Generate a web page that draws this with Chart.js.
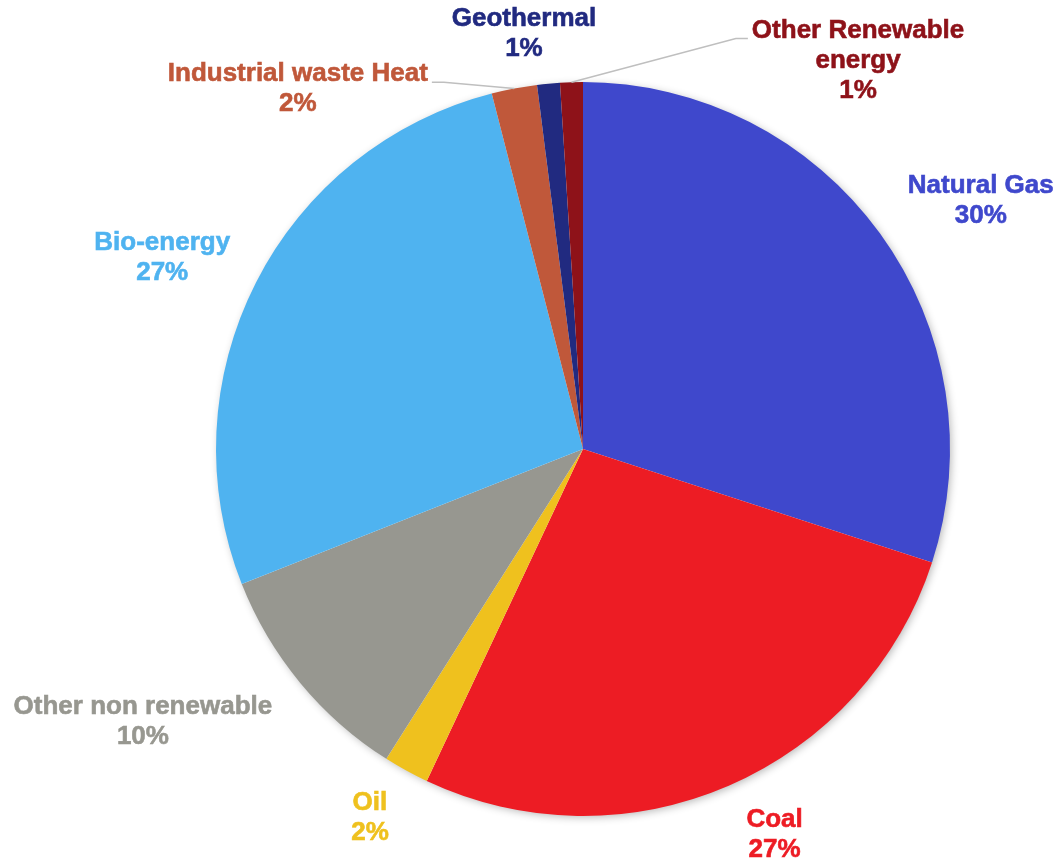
<!DOCTYPE html>
<html>
<head>
<meta charset="utf-8">
<script src="https://cdn.jsdelivr.net/npm/chart.js@4/dist/chart.umd.min.js"></script>
<style>
  html, body { margin: 0; padding: 0; background: #fff; }
  #wrap { width: 1060px; height: 862px; }
</style>
</head>
<body>
<div id="wrap"><canvas id="myChart"></canvas></div>
<script>
// data set
var categories = ["Natural Gas", "Coal", "Oil", "Other non renewable", "Bio-energy",
                  "Industrial waste Heat", "Geothermal", "Other Renewable energy"];
var shares = [30, 27, 2, 10, 27, 2, 1, 1];

// slice colours (text uses the same)
var colors = ["#3F48CC", "#ED1C24", "#EFC11E", "#979790", "#4FB3F0", "#C0583A", "#212A80", "#8E1219"];

// label placement: angle from 12 o'clock (deg, clockwise) and distance as a share of the radius
var labelAngle = [58, 153.6, 210, 238.2, 294.4, 321.6, 351.9, 35.3];
var labelDist = [1.278, 1.174, 1.161, 1.411, 1.259, 1.251, 1.142, 1.297];
var labelLeader = [false, false, false, false, false, true, false, true];

function wrapName(name) {
  if (name === "Other Renewable energy") return ["Other Renewable", "energy"];
  return [name];
}

// soft shadow under the whole pie
const pieShadow = {
  id: 'pieShadow',
  beforeDatasetsDraw(chart) {
    const arc = chart.getDatasetMeta(0).data[0];
    if (!arc) return;
    const ctx = chart.ctx;
    ctx.save();
    ctx.shadowColor = 'rgba(0,0,0,0.3)';
    ctx.shadowBlur = 9;
    ctx.shadowOffsetX = 2;
    ctx.shadowOffsetY = 2;
    ctx.fillStyle = '#ffffff';
    ctx.beginPath();
    ctx.arc(arc.x, arc.y, arc.outerRadius - 1, 0, Math.PI * 2);
    ctx.fill();
    ctx.restore();
  }
};

// outside labels with leader lines for the thin slices
const outLabels = {
  id: 'outLabels',
  afterDatasetsDraw(chart) {
    const ctx = chart.ctx;
    const meta = chart.getDatasetMeta(0);
    const total = shares.reduce((a, b) => a + b, 0);
    const lh = 30;
    ctx.save();
    ctx.font = 'bold 26px "Liberation Sans", Arial, sans-serif';
    ctx.textAlign = 'center';
    ctx.textBaseline = 'middle';
    meta.data.forEach((arc, i) => {
      const R = arc.outerRadius;
      const a = labelAngle[i] * Math.PI / 180;
      const cx = arc.x + Math.sin(a) * R * labelDist[i];
      const cy = arc.y - Math.cos(a) * R * labelDist[i];
      const lines = wrapName(categories[i]).concat([Math.round(shares[i] / total * 100) + '%']);
      const top = cy - (lines.length - 1) * lh / 2;

      if (labelLeader[i]) {
        const mid = (arc.startAngle + arc.endAngle) / 2;
        const px = arc.x + Math.cos(mid) * R;
        const py = arc.y + Math.sin(mid) * R;
        const w = ctx.measureText(lines[0]).width;
        const side = px > cx ? 1 : -1;
        const ex = cx + side * (w / 2 + 4);
        const ey = top + 8;
        ctx.strokeStyle = '#BFBFBF';
        ctx.lineWidth = 1.5;
        ctx.beginPath();
        ctx.moveTo(px, py);
        ctx.lineTo(ex + side * 12, ey);
        ctx.lineTo(ex, ey);
        ctx.stroke();
      }

      // a thin outline of the same colour gives the heavier bold look
      ctx.fillStyle = colors[i];
      ctx.strokeStyle = colors[i];
      ctx.lineWidth = 0.6;
      lines.forEach((t, k) => {
        ctx.fillText(t, cx, top + k * lh);
        ctx.strokeText(t, cx, top + k * lh);
      });
    });
    ctx.restore();
  }
};

new Chart("myChart", {
  type: "pie",
  data: {
    labels: categories,
    datasets: [{
      data: shares,
      backgroundColor: colors,
      borderWidth: 0
    }]
  },
  options: {
    responsive: true,
    maintainAspectRatio: false,
    animation: false,
    layout: {
      padding: { left: 216, right: 110, top: 82, bottom: 46 }
    },
    plugins: {
      legend: { display: false },
      tooltip: { enabled: false }
    }
  },
  plugins: [pieShadow, outLabels]
});
</script>
</body>
</html>
